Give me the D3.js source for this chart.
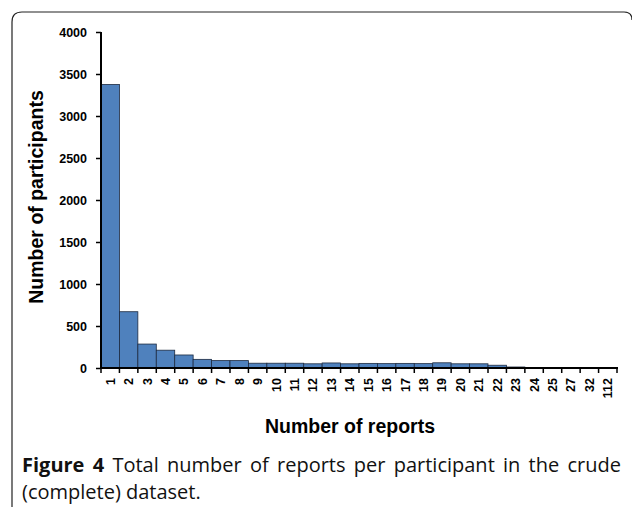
<!DOCTYPE html>
<html><head><meta charset="utf-8">
<script src="https://cdn.jsdelivr.net/npm/d3@7"></script>
<style>html,body{margin:0;padding:0;background:#fff;}svg{display:block;}</style>
</head><body>
<svg id="c" width="632" height="507"></svg>
<script>
const categories = ["1","2","3","4","5","6","7","8","9","10","11","12","13","14","15","16","17","18","19","20","21","22","23","24","25","27","32","112"];
const counts = [3375,670,285,212,155,103,88,88,57,57,57,50,60,50,55,52,55,52,62,50,50,33,12,5,3,2,2,1];
const yTicks = [0,500,1000,1500,2000,2500,3000,3500,4000];
const xTitle = "Number of reports";
const yTitle = "Number of participants";
const captionBold = "Figure 4";
const captionLine1 = " Total number of reports per participant in the crude";
const captionLine2 = "(complete) dataset.";

const svg = d3.select("#c");
const L = 101, R = 617, T = 32, B = 368;
const x = d3.scaleBand().domain(categories).range([L, R]).paddingInner(0).paddingOuter(0);
const y = d3.scaleLinear().domain([0, 4000]).range([B, T]);

// frame
svg.append("path").attr("d","M12,507 L12,22 Q12,12 22,12 L624,12 Q632,12 632,20")
  .attr("fill","none").attr("stroke","#222").attr("stroke-width",1.2);

// bars
svg.append("g").selectAll("rect").data(categories).join("rect")
  .attr("x", d => x(d))
  .attr("width", x.bandwidth())
  .attr("y", (d,i) => y(counts[i]))
  .attr("height", (d,i) => B - y(counts[i]))
  .attr("fill", "#4f81bd")
  .attr("stroke", "#1c2a40")
  .attr("stroke-width", 0.8);

// y axis
const ya = svg.append("g").attr("transform", `translate(${L},0)`)
  .call(d3.axisLeft(y).tickValues(yTicks).tickSize(5).tickPadding(9).tickFormat(d3.format("d")));
ya.select(".domain").attr("stroke","#000").attr("stroke-width",2).attr("d",`M0,${T}V${B}`);
ya.selectAll(".tick line").attr("stroke","#000").attr("stroke-width",1.5);
ya.selectAll(".tick text").attr("font-family","Liberation Sans, Arial, sans-serif")
  .attr("font-weight","bold").attr("font-size",12.5).attr("fill","#000");

// x axis: ticks at category boundaries
const xa = svg.append("g").attr("transform", `translate(0,${B})`);
xa.append("line").attr("x1",L).attr("x2",R+1).attr("y1",0).attr("y2",0).attr("stroke","#000").attr("stroke-width",2);
const bounds = categories.map(c => x(c)).concat([x(categories[categories.length-1]) + x.bandwidth()]);
xa.selectAll("line.tk").data(bounds).join("line").attr("class","tk")
  .attr("x1", d => d).attr("x2", d => d).attr("y1", 0).attr("y2", 5)
  .attr("stroke","#000").attr("stroke-width",1.5);
xa.selectAll("text").data(categories).join("text")
  .attr("transform", d => `translate(${x(d) + x.bandwidth()/2 + 4.5},10) rotate(-90)`)
  .attr("text-anchor","end")
  .attr("font-family","Liberation Sans, Arial, sans-serif")
  .attr("font-weight","bold").attr("font-size",12.5).attr("fill","#000")
  .text(d => d);

// titles
svg.append("text").attr("x", 350).attr("y", 433).attr("text-anchor","middle")
  .attr("font-family","Liberation Sans, Arial, sans-serif").attr("font-weight","bold")
  .attr("font-size",19.5).text(xTitle);
svg.append("text").attr("transform","translate(43,197) rotate(-90)").attr("text-anchor","middle")
  .attr("font-family","Liberation Sans, Arial, sans-serif").attr("font-weight","bold")
  .attr("font-size",19.5).text(yTitle);

// caption
const capFont = "Open Sans, Noto Sans, sans-serif";
const cap = svg.append("text").attr("x",22).attr("y",472)
  .attr("font-family",capFont).attr("font-size",20).attr("fill","#111");
cap.append("tspan").attr("font-weight","bold").text(captionBold);
cap.append("tspan").text(captionLine1);
const w = cap.node().getComputedTextLength();
const spaces = (captionBold + captionLine1).split(" ").length - 1;
cap.attr("word-spacing", (621 - 22 - w) / spaces);
svg.append("text").attr("x",22).attr("y",499)
  .attr("font-family",capFont).attr("font-size",20).attr("fill","#111")
  .text(captionLine2);
</script>
</body></html>
